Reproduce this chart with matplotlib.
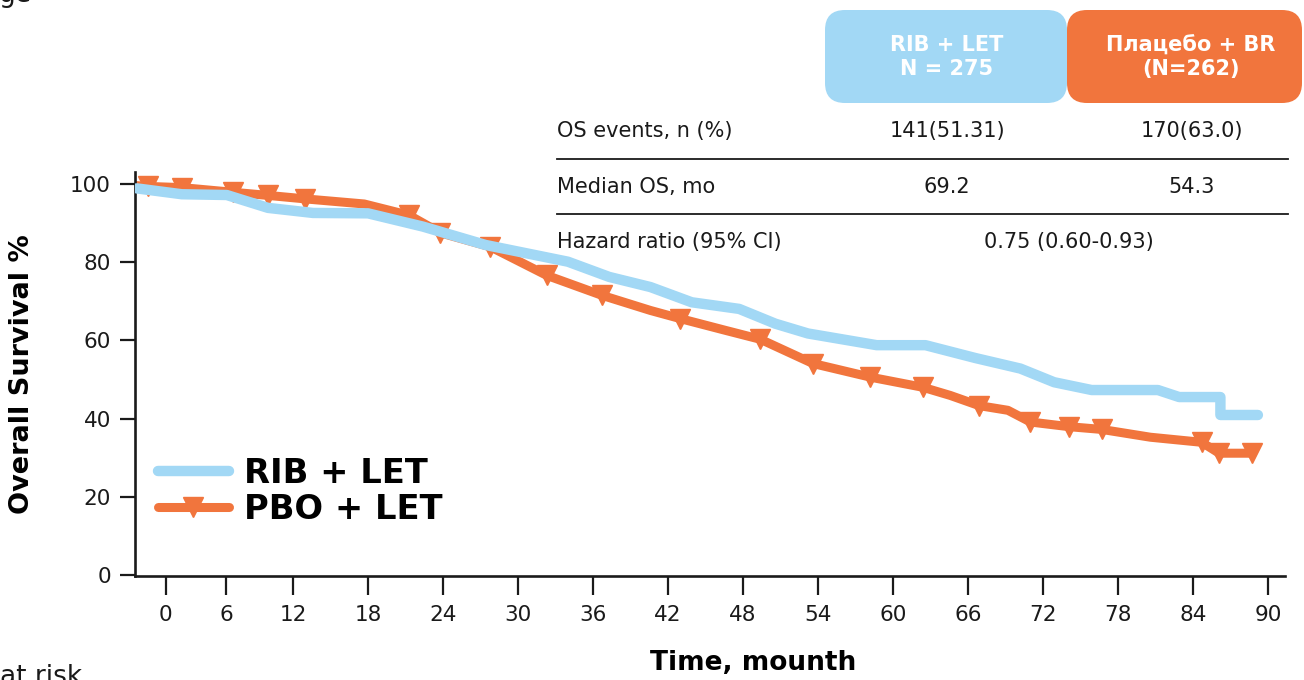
import matplotlib
matplotlib.use("Agg")
import matplotlib.pyplot as plt
from matplotlib.patches import FancyBboxPatch

plt.rcParams['font.family'] = ['DejaVu Sans']

# ---------------- data ----------------
rib_months = [-0.5, 3.1, 6.7, 10.0, 13.6, 18.0, 22.4, 27.4, 34.0, 37.3, 40.6, 43.9,
              47.7, 50.6, 53.2, 58.7, 62.6, 66.6, 70.2, 72.9, 75.9, 81.2, 82.9,
              86.2, 86.2, 89.2]
rib_surv = [99.0, 97.5, 97.3, 94.0, 92.7, 92.6, 89.2, 84.5, 80.2, 76.3, 73.7, 69.8,
            68.1, 64.3, 61.8, 58.8, 58.8, 55.5, 52.8, 49.3, 47.3, 47.3, 45.5,
            45.5, 40.9, 40.9]

pbo_months = [-0.5, 0.4, 3.1, 7.2, 10.0, 13.0, 17.7, 21.3, 23.8, 27.8, 32.3, 36.7,
              40.6, 43.0, 46.6, 49.4, 53.6, 58.2, 62.4, 64.6, 66.9, 69.2, 71.0,
              74.1, 76.7, 80.6, 84.7, 86.1, 88.7]
pbo_surv = [99.7, 99.5, 99.2, 98.0, 97.2, 96.3, 95.0, 92.1, 87.6, 84.0, 76.7, 71.6,
            67.7, 65.6, 62.6, 60.3, 54.1, 50.6, 48.0, 45.9, 43.3, 42.1, 39.1,
            37.9, 37.2, 35.2, 33.9, 31.1, 31.1]
pbo_marker_idx = [1, 2, 3, 4, 5, 7, 8, 9, 10, 11, 13, 15, 16, 17, 18, 20, 22, 23,
                  24, 26, 27, 28]

series_labels = ['RIB + LET', 'PBO + LET']
x_tick_pos = [1.82, 6.64, 12, 18, 24, 30, 36, 42, 48, 54, 60, 66, 72, 78, 84, 90]
x_tick_labels = ['0', '6', '12', '18', '24', '30', '36', '42', '48', '54', '60',
                 '66', '72', '78', '84', '90']
y_ticks = [0, 20, 40, 60, 80, 100]

box_titles = ['RIB + LET\nN = 275', 'Плацебо + BR\n(N=262)']
row_labels = ['OS events, n (%)', 'Median OS, mo', 'Hazard ratio (95% CI)']
rib_values = ['141(51.31)', '69.2']
pbo_values = ['170(63.0)', '54.3']
hazard_ratio = '0.75 (0.60-0.93)'

BLUE = '#A2D8F5'
ORANGE = '#F1753D'
DARK = '#1a1a1a'

W, H = 1304, 680
fig = plt.figure(figsize=(W / 100, H / 100), dpi=100)

# main axes (pixel layout)
ax_l, ax_r, ax_t, ax_b = 134.5, 1285.4, 172, 576
ax = fig.add_axes([ax_l / W, 1 - ax_b / H, (ax_r - ax_l) / W, (ax_b - ax_t) / H])

ax.plot(pbo_months, pbo_surv, color=ORANGE, lw=6.5, marker='v', markersize=14,
        markevery=pbo_marker_idx, solid_capstyle='round', solid_joinstyle='round',
        zorder=2, label=series_labels[1])
ax.plot(rib_months, rib_surv, color=BLUE, lw=7.5, solid_capstyle='round',
        solid_joinstyle='round', zorder=3, label=series_labels[0])

ax.set_xlim(-0.68, 91.4)
ax.set_ylim(-0.38, 103.2)
for s in ['top', 'right']:
    ax.spines[s].set_visible(False)
for s in ['left', 'bottom']:
    ax.spines[s].set_linewidth(1.9)
    ax.spines[s].set_color(DARK)

ax.set_xticks(x_tick_pos)
ax.set_xticklabels(x_tick_labels)
ax.set_yticks(y_ticks)
ax.tick_params(axis='x', direction='out', length=14, width=1.6, pad=7,
               labelsize=15.5, colors=DARK)
ax.tick_params(axis='y', direction='out', length=11, width=1.6, pad=6,
               labelsize=15.5, colors=DARK)

ax.set_ylabel('Overall Survival %', fontsize=19.5, fontweight='bold', va='center')
ax.yaxis.set_label_coords((22 - ax_l) / (ax_r - ax_l), 0.5)
ax.set_xlabel('Time, mounth', fontsize=19, fontweight='bold', va='center')
ax.xaxis.set_label_coords((753 - ax_l) / (ax_r - ax_l), -(663 - ax_b) / (ax_b - ax_t))

h, l = ax.get_legend_handles_labels()
leg = ax.legend([h[1], h[0]], [l[1], l[0]], loc='center left',
                bbox_to_anchor=((158 - ax_l) / (ax_r - ax_l), (ax_b - 491.5) / (ax_b - ax_t)),
                frameon=False, borderpad=0, borderaxespad=0, handlelength=2.1,
                handletextpad=0.45, labelspacing=0.1, numpoints=1,
                prop={'weight': 'bold', 'size': 24.3})

# overlay in pixel coordinates for the table
ov = fig.add_axes([0, 0, 1, 1])
ov.set_xlim(0, W)
ov.set_ylim(H, 0)
ov.axis('off')

box_specs = [(825, 1067, BLUE, 947), (1067, 1302, ORANGE, 1191)]
for (x0, x1, col, cx), title in zip(box_specs, box_titles):
    ov.add_patch(FancyBboxPatch((x0, 10), x1 - x0, 93,
                                boxstyle='round,pad=0,rounding_size=20',
                                facecolor=col, edgecolor='none'))
    ov.text(cx, 57, title, ha='center', va='center', color='white',
            fontsize=15, fontweight='bold', linespacing=1.2)

row_y = [131, 187, 242]
for y, lab in zip(row_y, row_labels):
    ov.text(557, y, lab, ha='left', va='center', fontsize=15, color=DARK)
for y, v in zip(row_y[:2], rib_values):
    ov.text(947, y, v, ha='center', va='center', fontsize=15, color=DARK)
for y, v in zip(row_y[:2], pbo_values):
    ov.text(1192, y, v, ha='center', va='center', fontsize=15, color=DARK)
ov.text(1069, row_y[2], hazard_ratio, ha='center', va='center', fontsize=15, color=DARK)
for y in [159, 214]:
    ov.plot([557, 1288], [y, y], color=DARK, lw=1.3)

ov.text(-1, 2, 'ge', ha='left', va='baseline', fontsize=19, color=DARK)
ov.text(0, 684, 'at risk', ha='left', va='baseline', fontsize=19, color=DARK)

fig.savefig('out.png', dpi=100)
